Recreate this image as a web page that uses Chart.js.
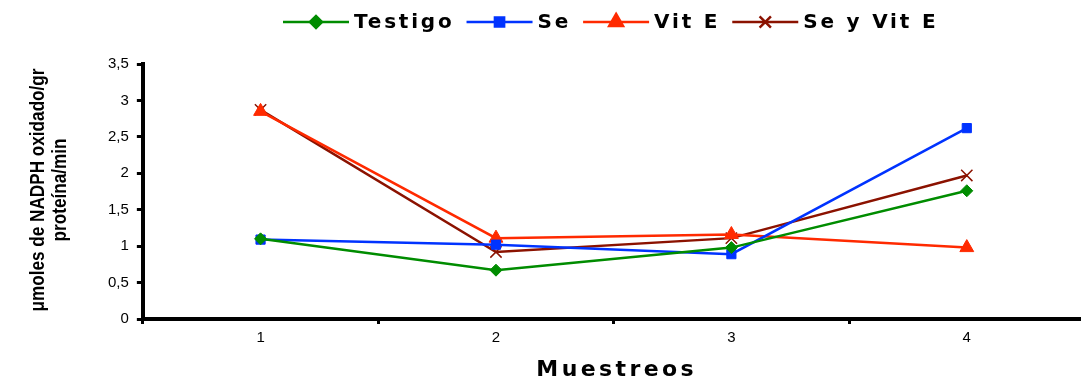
<!DOCTYPE html>
<html lang="es">
  <head>
    <meta charset="UTF-8" />
    <title>Muestreos</title>
    <script src="https://cdn.jsdelivr.net/npm/chart.js"></script>
    <style>
      body { margin: 0; overflow: hidden; background: #fff; }
      #wrap { width: 1094px; height: 381px; }
    </style>
  </head>
  <body>
    <div id="wrap"><canvas id="muestreosChart"></canvas></div>
    <script>
      const categories = ["1", "2", "3", "4"];
      const testigo = [1.1, 0.67, 0.98, 1.76];
      const se = [1.09, 1.02, 0.89, 2.62];
      const vitE = [2.85, 1.11, 1.16, 0.98];
      const seYVitE = [2.87, 0.92, 1.11, 1.97];
      const seriesNames = ["Testigo", "Se", "Vit E", "Se y Vit E"];
      const seriesColors = ["#008c00", "#0033ff", "#ff2a00", "#8b1200"];
      const yTitle = ["μmoles de NADPH oxidado/gr", "proteína/min"];
      const xTitle = "Muestreos";

      function makeSet(i, data, style, radius) {
        return {
          label: seriesNames[i],
          data: data,
          borderColor: seriesColors[i],
          backgroundColor: seriesColors[i],
          borderWidth: 2.5,
          pointStyle: style,
          pointRadius: radius,
          pointBorderWidth: style === "crossRot" ? 1.5 : 1,
          tension: 0,
        };
      }

      // legend (line + marker) and the axis titles, drawn by hand
      const decorations = {
        id: "decorations",
        afterDraw(chart) {
          const ctx = chart.ctx;
          const area = chart.chartArea;

          ctx.save();
          ctx.font = "bold 20px 'DejaVu Sans', sans-serif";
          ctx.letterSpacing = "2.8px";
          ctx.textBaseline = "middle";
          const lineLen = 66, gap = 5, itemGap = 12, y = 22;
          let x = 283;
          chart.data.datasets.forEach((ds) => {
            ctx.strokeStyle = ds.borderColor;
            ctx.lineWidth = 2.5;
            ctx.beginPath();
            ctx.moveTo(x, y);
            ctx.lineTo(x + lineLen, y);
            ctx.stroke();
            ctx.fillStyle = ds.borderColor;
            Chart.helpers.drawPoint(ctx, {
              pointStyle: ds.pointStyle,
              radius: ds.pointRadius,
              borderWidth: ds.pointBorderWidth,
            }, x + lineLen / 2, y);
            ctx.fillStyle = "#000";
            ctx.fillText(ds.label, x + lineLen + gap, y + 1);
            x += lineLen + gap + ctx.measureText(ds.label).width + itemGap;
          });

          ctx.font = "bold 22px 'DejaVu Sans', sans-serif";
          ctx.letterSpacing = "3.4px";
          ctx.textAlign = "center";
          ctx.fillText(xTitle, (area.left + area.right) / 2 + 3, 370);
          ctx.restore();

          // condensed, rotated y title
          ctx.save();
          ctx.font = "bold 20px 'Liberation Sans', Arial, sans-serif";
          const squeeze = 243 / ctx.measureText(yTitle[0]).width;
          ctx.translate(0, 190);
          ctx.rotate(-Math.PI / 2);
          ctx.scale(squeeze, 1);
          ctx.fillStyle = "#000";
          ctx.textAlign = "center";
          ctx.textBaseline = "middle";
          ctx.fillText(yTitle[0], 0, 38);
          ctx.fillText(yTitle[1], 0, 60);
          ctx.restore();
        },
      };

      const ctx = document.getElementById("muestreosChart").getContext("2d");
      new Chart(ctx, {
        type: "line",
        data: {
          labels: categories,
          datasets: [
            makeSet(0, testigo, "rectRot", 6),
            makeSet(1, se, "rect", 6.5),
            makeSet(2, vitE, "triangle", 8),
            makeSet(3, seYVitE, "crossRot", 8),
          ],
        },
        options: {
          responsive: true,
          maintainAspectRatio: false,
          animation: false,
          layout: { padding: { top: 64, left: 100, right: 2, bottom: 29 } },
          plugins: {
            legend: { display: false },
            tooltip: { enabled: false },
          },
          scales: {
            x: {
              offset: true,
              grid: {
                offset: true,
                drawOnChartArea: false,
                drawTicks: true,
                tickLength: 5,
                tickWidth: 3,
                color: "#000",
              },
              border: { color: "#000", width: 4 },
              ticks: {
                color: "#000",
                font: { family: "'Liberation Sans', Arial", size: 15 },
                padding: 5,
              },
            },
            y: {
              min: 0,
              max: 3.5,
              grid: {
                drawOnChartArea: false,
                drawTicks: true,
                tickLength: 6,
                tickWidth: 3,
                color: "#000",
              },
              border: { color: "#000", width: 4 },
              ticks: {
                stepSize: 0.5,
                color: "#000",
                font: { family: "'Liberation Sans', Arial", size: 15 },
                padding: 8,
                callback: (v) => String(v).replace(".", ","),
              },
            },
          },
        },
        plugins: [decorations],
      });
    </script>
  </body>
</html>
